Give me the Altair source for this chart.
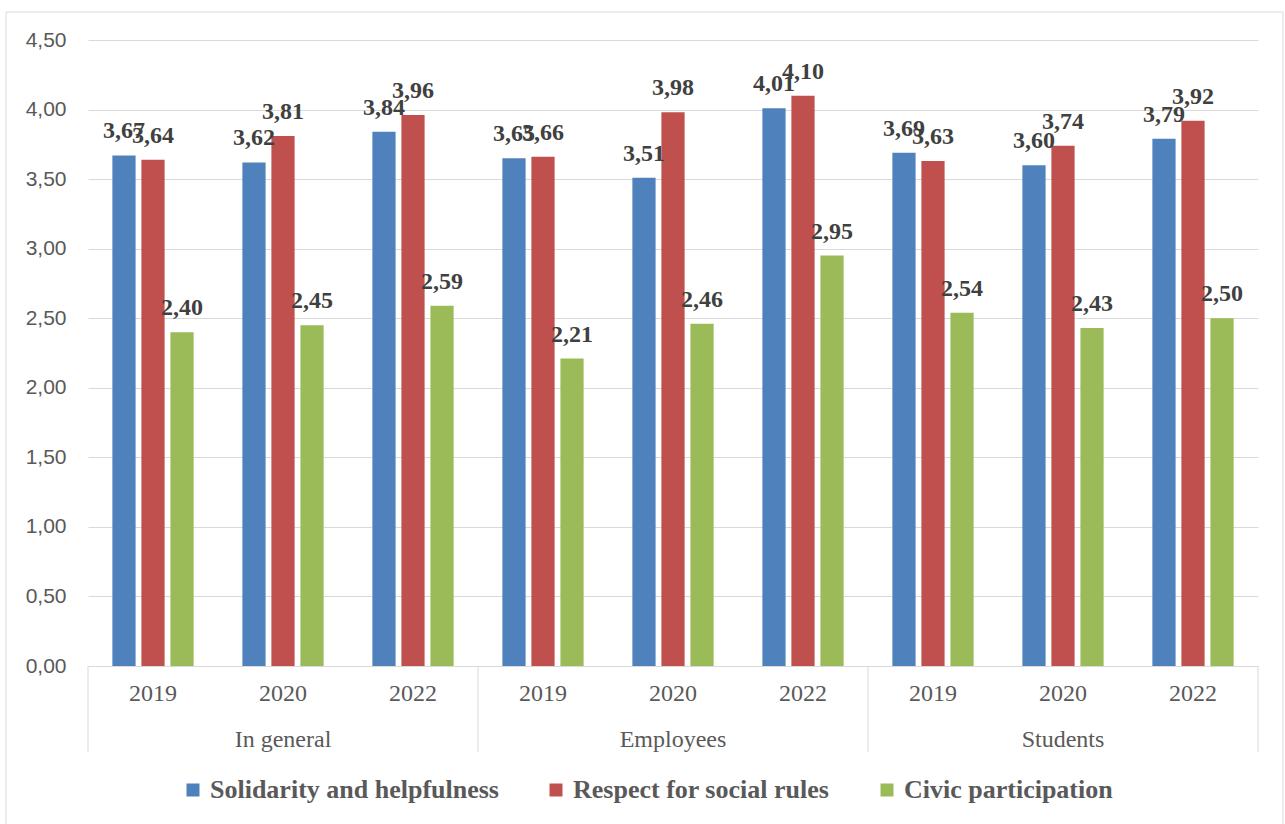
import altair as alt
import pandas as pd

groups = ["In general", "Employees", "Students"]
years = ["2019", "2020", "2022"]
series_names = ["Solidarity and helpfulness", "Respect for social rules", "Civic participation"]
colors = ["#4f81bd", "#c0504d", "#9bbb59"]

solidarity = [3.67, 3.62, 3.84, 3.65, 3.51, 4.01, 3.69, 3.60, 3.79]
respect = [3.64, 3.81, 3.96, 3.66, 3.98, 4.10, 3.63, 3.74, 3.92]
civic = [2.40, 2.45, 2.59, 2.21, 2.46, 2.95, 2.54, 2.43, 2.50]
y_ticks = [0, 0.5, 1.0, 1.5, 2.0, 2.5, 3.0, 3.5, 4.0, 4.5]

keys = [f"{g}|{y}" for g in groups for y in years]

rows = []
for s, vals in zip(series_names, [solidarity, respect, civic]):
    for k, v in zip(keys, vals):
        rows.append({"key": k, "series": s, "value": v})
df = pd.DataFrame(rows)

W, H = 1170, 626
GRAY = "#d9d9d9"
TXT = "#595959"

x_axis = alt.Axis(title=None, labelExpr="split(datum.label, '|')[1]", labelAngle=0,
                  ticks=False, domainColor=GRAY, domainWidth=1, labelPadding=15,
                  labelFont="Liberation Serif", labelFontSize=24, labelColor=TXT, grid=False)
x_scale = alt.Scale(domain=keys, paddingInner=0, paddingOuter=0)
y_axis = alt.Axis(title=None, values=y_ticks,
                  labelExpr="replace(format(datum.value, '.2f'), '.', ',')",
                  domain=False, ticks=False, labelPadding=22, gridColor=GRAY, gridWidth=1,
                  labelFont="Liberation Sans", labelFontSize=21, labelColor=TXT)
y_scale = alt.Scale(domain=[0, 4.5], nice=False)


def xenc(band=None):
    if band is None:
        return alt.X("key:N", sort=keys, scale=x_scale, axis=x_axis)
    return alt.X("key:N", sort=keys, scale=x_scale, axis=x_axis, bandPosition=band)


xoff = alt.XOffset("series:N", sort=series_names,
                   scale=alt.Scale(domain=series_names, paddingInner=0.2, paddingOuter=0.84))
y_enc = alt.Y("value:Q", scale=y_scale, axis=y_axis)

base = alt.Chart(df)
bars = base.mark_bar().encode(
    x=xenc(), xOffset=xoff, y=y_enc,
    color=alt.Color("series:N", sort=series_names,
                    scale=alt.Scale(domain=series_names, range=colors),
                    legend=alt.Legend(orient="none", legendX=92, legendY=737, direction="horizontal",
                                      title=None, symbolType="square", symbolSize=169,
                                      symbolStrokeWidth=0, labelFont="Liberation Serif",
                                      labelFontWeight="bold", labelFontSize=26, labelColor=TXT,
                                      columnPadding=44, labelOffset=4, labelLimit=0)),
)
labels = base.transform_calculate(
    lab="replace(format(datum.value, '.2f'), '.', ',')"
).mark_text(baseline="middle", dy=-24, font="Liberation Serif", fontWeight="bold",
            fontSize=24, color="#404040").encode(
    x=xenc(), xOffset=xoff, y=y_enc, text="lab:N",
)

sep_df = pd.DataFrame({"key": [f"{g}|{years[0]}" for g in groups]})
end_df = pd.DataFrame({"key": [f"{groups[-1]}|{years[-1]}"]})
seps = alt.Chart(sep_df).mark_rule(color=GRAY, strokeWidth=1).encode(
    x=xenc(0), y=alt.value(H), y2=alt.value(H + 86),
)
seps_end = alt.Chart(end_df).mark_rule(color=GRAY, strokeWidth=1).encode(
    x=xenc(1), y=alt.value(H), y2=alt.value(H + 86),
)
grp_df = pd.DataFrame({"key": [f"{g}|{years[1]}" for g in groups], "grp": groups})
grp_text = alt.Chart(grp_df).mark_text(baseline="middle", font="Liberation Serif",
                                       fontSize=24, color=TXT).encode(
    x=xenc(0.5), y=alt.value(H + 74), text="grp:N",
)
border = alt.Chart(pd.DataFrame({"a": [0]})).mark_rect(
    fillOpacity=0, stroke=GRAY, strokeWidth=1).encode(
    x=alt.value(-82), x2=alt.value(1195), y=alt.value(-28), y2=alt.value(H + 160),
)

chart = alt.layer(border, bars, labels, seps, seps_end, grp_text).properties(
    width=W, height=H,
    autosize=alt.AutoSizeParams(type="none"),
    padding={"left": 88, "top": 40, "right": 27, "bottom": 158},
    background="white",
).configure_view(stroke=None)

chart.save("out.html", embed_options={"renderer": "svg", "actions": False})
